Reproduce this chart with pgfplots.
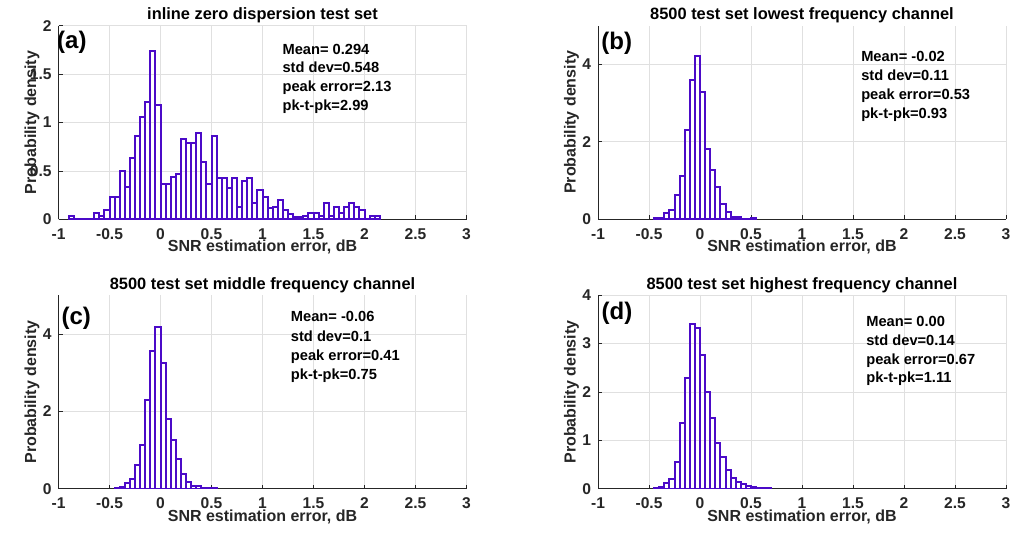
\documentclass[border=0pt]{standalone}
\usepackage{fontspec}
\setmainfont{Liberation Sans}
\usepackage{pgfplots}
\pgfplotsset{compat=1.18}
\definecolor{hc}{RGB}{75,10,200}
\definecolor{ax}{RGB}{38,38,38}
\newcommand{\stat}{\bfseries\fontsize{11}{13}\selectfont}
\newcommand{\pan}{\bfseries\fontsize{18}{20}\selectfont}
\newcommand{\labf}{\bfseries\fontsize{12}{14}\selectfont}
\newcommand{\titf}{\bfseries\fontsize{12.3}{14}\selectfont}
\newcommand{\tickf}{\bfseries\fontsize{11.7}{14}\selectfont}
\pgfplotsset{
 mystyle/.style={
  scale only axis, width=306pt, height=145.1pt,
  xmin=-1, xmax=3, xtick={-1,-0.5,0,0.5,1,1.5,2,2.5,3},
  ymin=0,
  axis lines*=left,
  axis line style={ax, line width=0.6pt},
  tick align=inside, major tick length=3pt,
  tick style={ax, line width=0.6pt},
  grid=major, major grid style={black!12, line width=0.5pt},
  enlargelimits=false,
  /pgf/number format/assume math mode=true,
  every tick label/.append style={font=\tickf, text=ax, inner sep=0pt},
  xticklabel style={anchor=north, yshift=-6.8pt},
  yticklabel style={anchor=east, xshift=-5pt},
  every axis title/.style={at={(axis description cs:0.5,1.054)}, anchor=center, font=\titf, text=black},
  every axis x label/.style={at={(axis description cs:0.5,-0.145)}, anchor=center, font=\labf, text=ax, inner sep=0pt},
  every axis y label/.style={at={(axis description cs:-0.065,0.5)}, rotate=90, anchor=center, font=\labf, text=ax, inner sep=0pt},
  xlabel={SNR estimation error, dB}, ylabel={Probability density},
 },
 hist/.style={ybar interval, draw=hc, fill=none, line width=1.5pt},
}

\pgfplotstableread{
x y
-0.90 0.038
-0.85 0
-0.80 0
-0.75 0
-0.70 0
-0.65 0.069
-0.60 0.038
-0.55 0.10
-0.50 0.233
-0.45 0.233
-0.40 0.497
-0.35 0.336
-0.30 0.63
-0.25 0.857
-0.20 1.053
-0.15 1.217
-0.10 1.742
-0.05 1.183
0.00 0.364
0.05 0.364
0.10 0.432
0.15 0.463
0.20 0.826
0.25 0.789
0.30 0.789
0.35 0.892
0.40 0.593
0.45 0.367
0.50 0.857
0.55 0.425
0.60 0.425
0.65 0.326
0.70 0.425
0.75 0.127
0.80 0.394
0.85 0.425
0.90 0.165
0.95 0.30
1.00 0.23
1.05 0.12
1.10 0.13
1.15 0.20
1.20 0.10
1.25 0.05
1.30 0.02
1.35 0.02
1.40 0.035
1.45 0.065
1.50 0.065
1.55 0.035
1.60 0.165
1.65 0.035
1.70 0.13
1.75 0.065
1.80 0.13
1.85 0.165
1.90 0.13
1.95 0.10
2.00 0.0
2.05 0.035
2.10 0.035
2.15 0
}\dataA

\pgfplotstableread{
x y
-0.45 0.02
-0.40 0.03
-0.35 0.15
-0.30 0.23
-0.25 0.61
-0.20 1.12
-0.15 2.30
-0.10 3.58
-0.05 4.22
0.00 3.28
0.05 1.81
0.10 1.27
0.15 0.84
0.20 0.38
0.25 0.18
0.30 0.06
0.35 0.06
0.40 0.01
0.45 0.01
0.50 0.02
0.55 0
}\dataB

\pgfplotstableread{
x y
-0.45 0.03
-0.40 0.05
-0.35 0.15
-0.30 0.24
-0.25 0.62
-0.20 1.12
-0.15 2.29
-0.10 3.56
-0.05 4.17
0.00 3.26
0.05 1.80
0.10 1.25
0.15 0.77
0.20 0.39
0.25 0.17
0.30 0.07
0.35 0.07
0.40 0.01
0.45 0.01
0.50 0.03
0.55 0
}\dataC

\pgfplotstableread{
x y
-0.45 0.02
-0.40 0.04
-0.35 0.11
-0.30 0.21
-0.25 0.56
-0.20 1.35
-0.15 2.28
-0.10 3.41
-0.05 3.33
0.00 2.77
0.05 1.99
0.10 1.47
0.15 0.94
0.20 0.66
0.25 0.39
0.30 0.23
0.35 0.14
0.40 0.10
0.45 0.06
0.50 0.03
0.55 0.015
0.60 0.015
0.65 0.015
0.70 0
}\dataD

\begin{document}
\begin{tikzpicture}
\path[use as bounding box] (0,0) rectangle (758.25pt,402.75pt);

% (a)
\begin{axis}[mystyle, at={(43.9pt,238.3pt)}, anchor=south west,
  ymax=2, ytick={0,0.5,1,1.5,2},
  title={inline zero dispersion test set}]
\addplot[hist] table[x=x,y=y] {\dataA};
\node[anchor=base west, font=\pan, text=black, inner sep=0] at (axis description cs:-0.004,0.883) {(a)};
\node[anchor=base west, font=\stat, inner sep=0] at (axis description cs:0.5485,0.853) {Mean= 0.294};
\node[anchor=base west, font=\stat, inner sep=0] at (axis description cs:0.5485,0.757) {std dev=0.548};
\node[anchor=base west, font=\stat, inner sep=0] at (axis description cs:0.5485,0.661) {peak error=2.13};
\node[anchor=base west, font=\stat, inner sep=0] at (axis description cs:0.5485,0.564) {pk-t-pk=2.99};
\end{axis}

% (b)
\begin{axis}[mystyle, at={(448.5pt,238.5pt)}, anchor=south west,
  ymax=5, ytick={0,2,4},
  title={8500 test set lowest frequency channel}]
\addplot[hist] table[x=x,y=y] {\dataB};
\node[anchor=base west, font=\pan, text=black, inner sep=0] at (axis description cs:0.0076,0.877) {(b)};
\node[anchor=base west, font=\stat, inner sep=0] at (axis description cs:0.6446,0.8155) {Mean= -0.02};
\node[anchor=base west, font=\stat, inner sep=0] at (axis description cs:0.6446,0.7173) {std dev=0.11};
\node[anchor=base west, font=\stat, inner sep=0] at (axis description cs:0.6446,0.6176) {peak error=0.53};
\node[anchor=base west, font=\stat, inner sep=0] at (axis description cs:0.6446,0.5194) {pk-t-pk=0.93};
\end{axis}

% (c)
\begin{axis}[mystyle, at={(43.9pt,36.2pt)}, anchor=south west,
  ymax=5, ytick={0,2,4},
  title={8500 test set middle frequency channel}]
\addplot[hist] table[x=x,y=y] {\dataC};
\node[anchor=base west, font=\pan, text=black, inner sep=0] at (axis description cs:0.007,0.851) {(c)};
\node[anchor=base west, font=\stat, inner sep=0] at (axis description cs:0.569,0.862) {Mean= -0.06};
\node[anchor=base west, font=\stat, inner sep=0] at (axis description cs:0.569,0.762) {std dev=0.1};
\node[anchor=base west, font=\stat, inner sep=0] at (axis description cs:0.569,0.664) {peak error=0.41};
\node[anchor=base west, font=\stat, inner sep=0] at (axis description cs:0.569,0.566) {pk-t-pk=0.75};
\end{axis}

% (d)
\begin{axis}[mystyle, at={(448.5pt,36.2pt)}, anchor=south west,
  ymax=4, ytick={0,1,2,3,4},
  title={8500 test set highest frequency channel}]
\addplot[hist] table[x=x,y=y] {\dataD};
\node[anchor=base west, font=\pan, text=black, inner sep=0] at (axis description cs:0.0083,0.875) {(d)};
\node[anchor=base west, font=\stat, inner sep=0] at (axis description cs:0.657,0.841) {Mean= 0.00};
\node[anchor=base west, font=\stat, inner sep=0] at (axis description cs:0.657,0.742) {std dev=0.14};
\node[anchor=base west, font=\stat, inner sep=0] at (axis description cs:0.657,0.644) {peak error=0.67};
\node[anchor=base west, font=\stat, inner sep=0] at (axis description cs:0.657,0.549) {pk-t-pk=1.11};
\end{axis}
\end{tikzpicture}
\end{document}
